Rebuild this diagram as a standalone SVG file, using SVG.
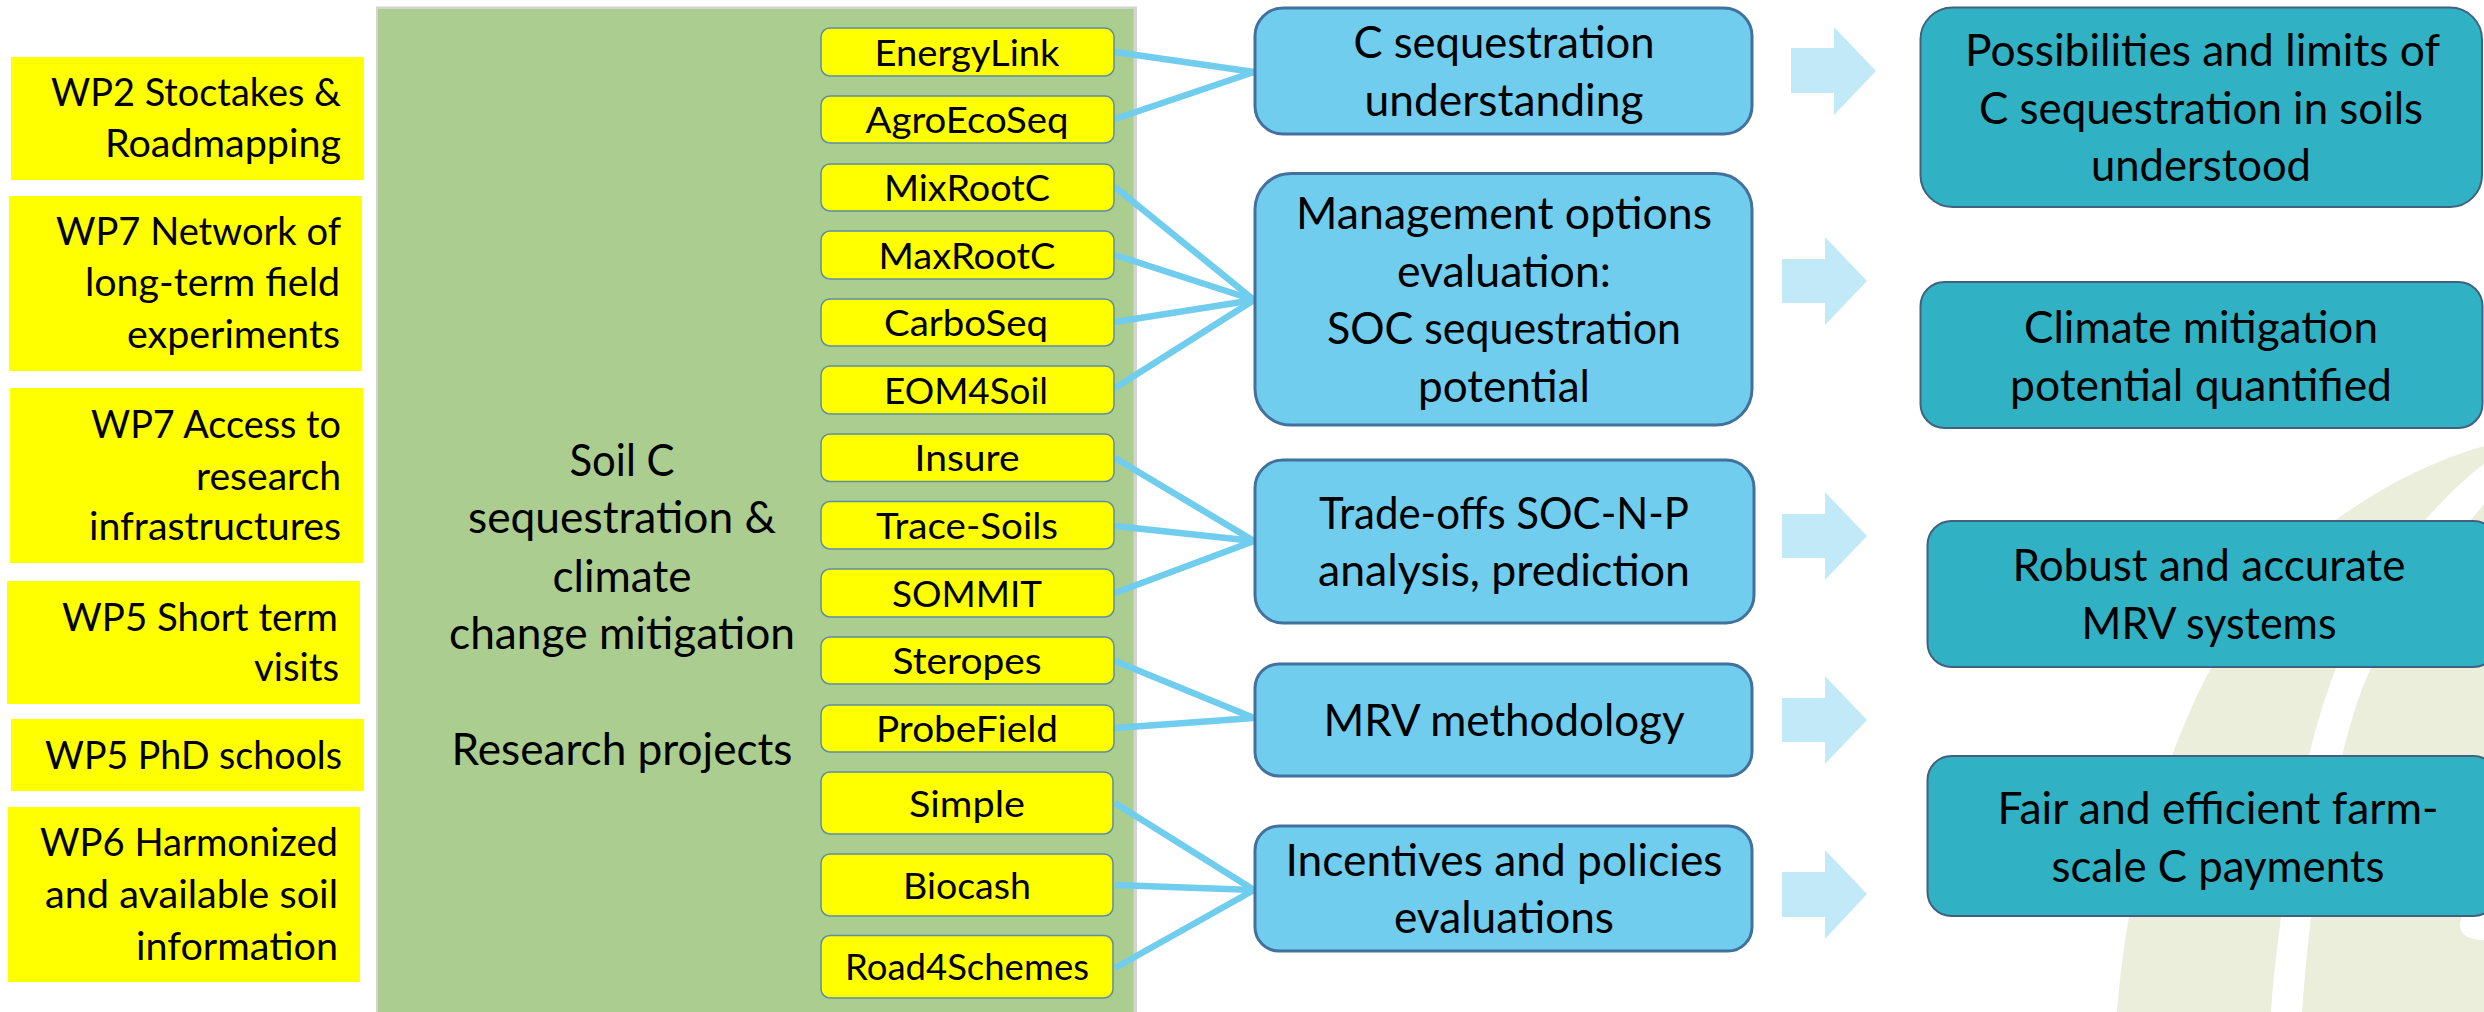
<svg xmlns="http://www.w3.org/2000/svg" width="2484" height="1012" viewBox="0 0 2484 1012">
<style>
text{font-family:"Lato","Open Sans","Liberation Sans",sans-serif;fill:#000;}
.c{text-anchor:middle}.r{text-anchor:end}
.wp{fill:#ffff00}.wpt{font-size:39px}
.prj{fill:#ffff00;stroke:#5f8f9f;stroke-width:1.5}.prjt{font-size:37px}
.blue{fill:#70cdee;stroke:#41719c;stroke-width:3}.bluet{font-size:45px}
.teal{fill:#30b1c4;stroke:#41627e;stroke-width:2}.tealt{font-size:44px}
.arr{fill:#c1e9f7}
.conn line{stroke:#70cdee;stroke-width:6.500;fill:none}
.panelt{font-size:44px}
</style>
<rect width="2484" height="1012" fill="#ffffff"/>
<g id="watermark">
<path d="M2484 446C2430 462 2385 485 2337 519C2285 560 2245 610 2211 668C2195 698 2183 726 2172 756C2150 815 2137 870 2129 917C2123 950 2119 985 2117 1012L2271 1012C2273 980 2277 950 2281 917C2288 860 2297 810 2309 756C2316 725 2325 697 2336 668C2358 612 2390 562 2426 519C2445 498 2465 478 2484 464Z" fill="#eaeeda"/>
<path d="M2484 504C2450 545 2405 605 2371 668C2358 695 2350 725 2342 756C2328 810 2318 860 2311 917C2307 950 2304 985 2302 1012L2484 1012L2484 940C2470 940 2460 935 2460 925C2460 915 2470 905 2484 905Z" fill="#eaeeda"/>
</g>
<g id="wp2"><rect class="wp" x="11" y="57" width="353" height="123"/>
<text class="wpt r" x="341" y="106" textLength="290" lengthAdjust="spacingAndGlyphs">WP2 Stoctakes &amp;</text>
<text class="wpt r" x="341" y="157" textLength="236" lengthAdjust="spacingAndGlyphs">Roadmapping</text></g>
<g id="wp7a"><rect class="wp" x="9" y="196" width="353" height="175"/>
<text class="wpt r" x="341" y="245" textLength="285" lengthAdjust="spacingAndGlyphs">WP7 Network of</text>
<text class="wpt r" x="340" y="296" textLength="255" lengthAdjust="spacingAndGlyphs">long-term field</text>
<text class="wpt r" x="340" y="348" textLength="213" lengthAdjust="spacingAndGlyphs">experiments</text></g>
<g id="wp7b"><rect class="wp" x="10" y="388" width="353" height="175"/>
<text class="wpt r" x="341" y="438" textLength="250" lengthAdjust="spacingAndGlyphs">WP7 Access to</text>
<text class="wpt r" x="341" y="490" textLength="145" lengthAdjust="spacingAndGlyphs">research</text>
<text class="wpt r" x="341" y="540" textLength="252" lengthAdjust="spacingAndGlyphs">infrastructures</text></g>
<g id="wp5a"><rect class="wp" x="7" y="581" width="353" height="123"/>
<text class="wpt r" x="338" y="631" textLength="276" lengthAdjust="spacingAndGlyphs">WP5 Short term</text>
<text class="wpt r" x="339" y="681" textLength="85" lengthAdjust="spacingAndGlyphs">visits</text></g>
<g id="wp5b"><rect class="wp" x="11" y="719" width="353" height="72"/>
<text class="wpt r" x="342" y="769" textLength="297" lengthAdjust="spacingAndGlyphs">WP5 PhD schools</text></g>
<g id="wp6"><rect class="wp" x="8" y="807" width="352" height="175"/>
<text class="wpt r" x="338" y="856" textLength="298" lengthAdjust="spacingAndGlyphs">WP6 Harmonized</text>
<text class="wpt r" x="338" y="908" textLength="293" lengthAdjust="spacingAndGlyphs">and available soil</text>
<text class="wpt r" x="338" y="960" textLength="202" lengthAdjust="spacingAndGlyphs">information</text></g>
<g id="panel"><rect x="376" y="6.500" width="761" height="1006" fill="#d2d4d0"/>
<rect x="378" y="9" width="755.500" height="1003" fill="#abcd90"/>
<text class="panelt c" x="622" y="476" textLength="105" lengthAdjust="spacingAndGlyphs">Soil C</text>
<text class="panelt c" x="622" y="533" textLength="308" lengthAdjust="spacingAndGlyphs">sequestration &amp;</text>
<text class="panelt c" x="622" y="592" textLength="139" lengthAdjust="spacingAndGlyphs">climate</text>
<text class="panelt c" x="622" y="649" textLength="346" lengthAdjust="spacingAndGlyphs">change mitigation</text>
<text class="panelt c" x="622" y="765" textLength="341" lengthAdjust="spacingAndGlyphs">Research projects</text></g>
<g class="conn" id="connectors">
<line x1="1115" y1="52" x2="1254" y2="72"/>
<line x1="1115" y1="119" x2="1254" y2="72"/>
<line x1="1115" y1="187" x2="1254" y2="300"/>
<line x1="1115" y1="255" x2="1254" y2="300"/>
<line x1="1115" y1="322" x2="1254" y2="300"/>
<line x1="1115" y1="388" x2="1254" y2="300"/>
<line x1="1115" y1="458" x2="1254" y2="541"/>
<line x1="1115" y1="526" x2="1254" y2="541"/>
<line x1="1115" y1="593" x2="1254" y2="541"/>
<line x1="1115" y1="661" x2="1254" y2="718"/>
<line x1="1115" y1="728" x2="1254" y2="718"/>
<line x1="1115" y1="803" x2="1254" y2="890"/>
<line x1="1115" y1="885" x2="1254" y2="890"/>
<line x1="1115" y1="968" x2="1254" y2="890"/>
</g>
<g id="p-energylink"><rect class="prj" x="821" y="28" width="293" height="48" rx="9"/><text class="prjt c" x="967" y="66" textLength="185" lengthAdjust="spacingAndGlyphs">EnergyLink</text></g>
<g id="p-agroecoseq"><rect class="prj" x="821" y="96" width="293" height="47" rx="9"/><text class="prjt c" x="967" y="133" textLength="203" lengthAdjust="spacingAndGlyphs">AgroEcoSeq</text></g>
<g id="p-mixrootc"><rect class="prj" x="821" y="164" width="293" height="47" rx="9"/><text class="prjt c" x="967" y="201" textLength="166" lengthAdjust="spacingAndGlyphs">MixRootC</text></g>
<g id="p-maxrootc"><rect class="prj" x="821" y="231" width="293" height="48" rx="9"/><text class="prjt c" x="967" y="269" textLength="177" lengthAdjust="spacingAndGlyphs">MaxRootC</text></g>
<g id="p-carboseq"><rect class="prj" x="821" y="299" width="293" height="47" rx="9"/><text class="prjt c" x="966" y="336" textLength="164" lengthAdjust="spacingAndGlyphs">CarboSeq</text></g>
<g id="p-eom4soil"><rect class="prj" x="821" y="366" width="293" height="48" rx="9"/><text class="prjt c" x="966" y="404" textLength="164" lengthAdjust="spacingAndGlyphs">EOM4Soil</text></g>
<g id="p-insure"><rect class="prj" x="821" y="434" width="293" height="47.500" rx="9"/><text class="prjt c" x="967" y="471" textLength="105" lengthAdjust="spacingAndGlyphs">Insure</text></g>
<g id="p-tracesoils"><rect class="prj" x="821" y="501.500" width="293" height="47.500" rx="9"/><text class="prjt c" x="967" y="539" textLength="182" lengthAdjust="spacingAndGlyphs">Trace-Soils</text></g>
<g id="p-sommit"><rect class="prj" x="821" y="569" width="293" height="48" rx="9"/><text class="prjt c" x="967" y="607" textLength="150" lengthAdjust="spacingAndGlyphs">SOMMIT</text></g>
<g id="p-steropes"><rect class="prj" x="821" y="637" width="293" height="47" rx="9"/><text class="prjt c" x="967" y="674" textLength="149" lengthAdjust="spacingAndGlyphs">Steropes</text></g>
<g id="p-probefield"><rect class="prj" x="821" y="705" width="293" height="47" rx="9"/><text class="prjt c" x="967" y="742" textLength="182" lengthAdjust="spacingAndGlyphs">ProbeField</text></g>
<g id="p-simple"><rect class="prj" x="821" y="772" width="292" height="62" rx="9"/><text class="prjt c" x="967" y="817" textLength="116" lengthAdjust="spacingAndGlyphs">Simple</text></g>
<g id="p-biocash"><rect class="prj" x="821" y="854" width="292" height="62" rx="9"/><text class="prjt c" x="967" y="899" textLength="128" lengthAdjust="spacingAndGlyphs">Biocash</text></g>
<g id="p-road4schemes"><rect class="prj" x="821" y="935.500" width="292" height="62.500" rx="9"/><text class="prjt c" x="967" y="980" textLength="244" lengthAdjust="spacingAndGlyphs">Road4Schemes</text></g>
<g id="b-understanding"><rect class="blue" x="1255" y="8" width="497" height="126" rx="28"/>
<text class="bluet c" x="1504" y="58" textLength="301" lengthAdjust="spacingAndGlyphs">C sequestration</text>
<text class="bluet c" x="1504" y="116" textLength="279" lengthAdjust="spacingAndGlyphs">understanding</text></g>
<g id="b-management"><rect class="blue" x="1255" y="173.500" width="497" height="251.500" rx="36"/>
<text class="bluet c" x="1504" y="229" textLength="416" lengthAdjust="spacingAndGlyphs">Management options</text>
<text class="bluet c" x="1504" y="287" textLength="214" lengthAdjust="spacingAndGlyphs">evaluation:</text>
<text class="bluet c" x="1504" y="344" textLength="354" lengthAdjust="spacingAndGlyphs">SOC sequestration</text>
<text class="bluet c" x="1504" y="402" textLength="172" lengthAdjust="spacingAndGlyphs">potential</text></g>
<g id="b-tradeoffs"><rect class="blue" x="1255" y="460" width="499" height="163" rx="28"/>
<text class="bluet c" x="1504" y="529" textLength="370" lengthAdjust="spacingAndGlyphs">Trade-offs SOC-N-P</text>
<text class="bluet c" x="1504" y="586" textLength="372" lengthAdjust="spacingAndGlyphs">analysis, prediction</text></g>
<g id="b-mrv"><rect class="blue" x="1255" y="664" width="497" height="112" rx="24"/>
<text class="bluet c" x="1504" y="736" textLength="361" lengthAdjust="spacingAndGlyphs">MRV methodology</text></g>
<g id="b-incentives"><rect class="blue" x="1255" y="826" width="497" height="125" rx="24"/>
<text class="bluet c" x="1504" y="876" textLength="437" lengthAdjust="spacingAndGlyphs">Incentives and policies</text>
<text class="bluet c" x="1504" y="933" textLength="220" lengthAdjust="spacingAndGlyphs">evaluations</text></g>
<g id="arrows">
<polygon class="arr" points="1791,48 1834,48 1834,27 1876,71 1834,115 1834,93 1791,93"/>
<polygon class="arr" points="1782,259 1825,259 1825,237 1867,281 1825,325 1825,303 1782,303"/>
<polygon class="arr" points="1782,514 1825,514 1825,492 1867,536 1825,580 1825,558 1782,558"/>
<polygon class="arr" points="1782,698 1825,698 1825,676 1867,720 1825,764 1825,742 1782,742"/>
<polygon class="arr" points="1782,872 1825,872 1825,850 1867,894 1825,939 1825,917 1782,917"/>
</g>
<g id="o-limits"><rect class="teal" x="1920.500" y="7.500" width="561.500" height="199.500" rx="32"/>
<text class="tealt c" x="2202.500" y="66" textLength="475" lengthAdjust="spacingAndGlyphs">Possibilities and limits of</text>
<text class="tealt c" x="2201" y="124" textLength="444" lengthAdjust="spacingAndGlyphs">C sequestration in soils</text>
<text class="tealt c" x="2201" y="181" textLength="220" lengthAdjust="spacingAndGlyphs">understood</text></g>
<g id="o-climate"><rect class="teal" x="1920.500" y="282" width="562" height="146" rx="24"/>
<text class="tealt c" x="2201" y="343" textLength="354" lengthAdjust="spacingAndGlyphs">Climate mitigation</text>
<text class="tealt c" x="2201" y="401" textLength="382" lengthAdjust="spacingAndGlyphs">potential quantified</text></g>
<g id="o-mrv"><rect class="teal" x="1927.500" y="521" width="570" height="146" rx="24"/>
<text class="tealt c" x="2209" y="581" textLength="393" lengthAdjust="spacingAndGlyphs">Robust and accurate</text>
<text class="tealt c" x="2209" y="639" textLength="255" lengthAdjust="spacingAndGlyphs">MRV systems</text></g>
<g id="o-payments"><rect class="teal" x="1927.500" y="756" width="570" height="160" rx="24"/>
<text class="tealt c" x="2218" y="824" textLength="441" lengthAdjust="spacingAndGlyphs">Fair and efficient farm-</text>
<text class="tealt c" x="2218" y="882" textLength="333" lengthAdjust="spacingAndGlyphs">scale C payments</text></g>
</svg>
